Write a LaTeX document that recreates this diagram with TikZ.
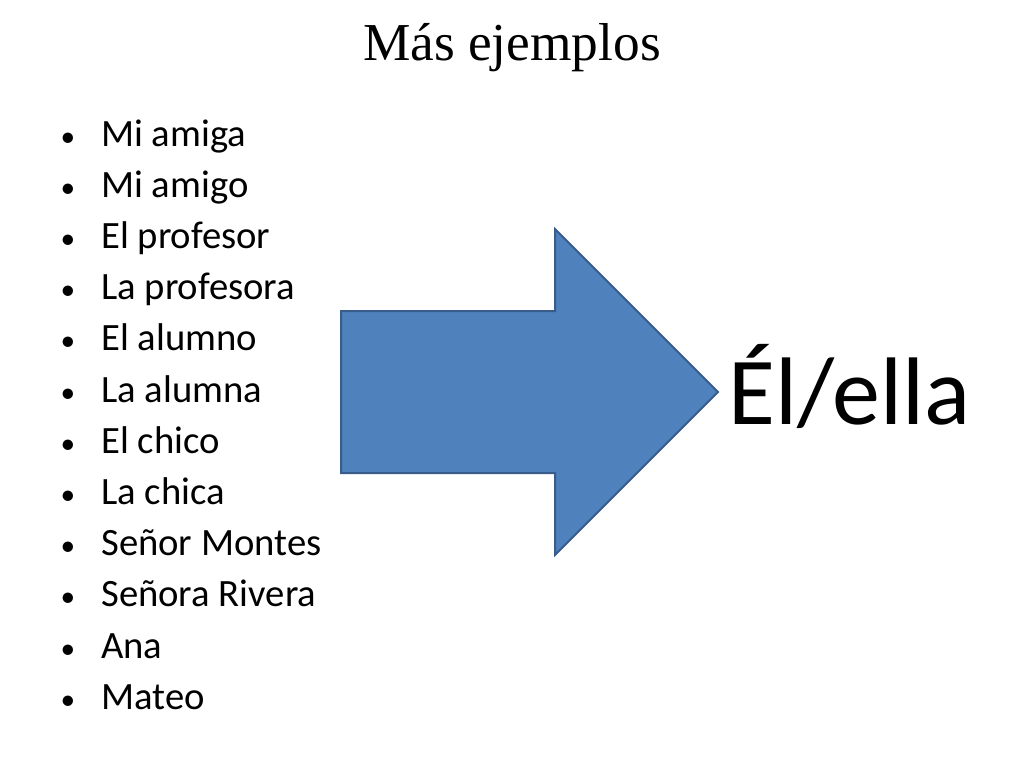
\documentclass[tikz,border=0pt]{standalone}
\usepackage{fontspec}
\setmainfont{Carlito}
\newfontfamily\titlefont{Liberation Serif}
\begin{document}
\begin{tikzpicture}[x=0.75pt,y=-0.75pt,
  item/.style={anchor=base west,inner sep=0,font=\fontsize{29}{33}\selectfont},
  bul/.style={anchor=base,inner sep=0,font=\fontsize{22}{26}\selectfont}]
\useasboundingbox[fill=white] (0,0) rectangle (1024,768);
\node[anchor=base,inner sep=0,font=\titlefont\fontsize{40}{44}\selectfont] (title) at (512,60) {Más ejemplos};
\foreach \t [count=\i from 0] in {Mi amiga,Mi amigo,El profesor,La profesora,El alumno,La alumna,El chico,La chica,Señor Montes,Señora Rivera,Ana,Mateo}{
  \node[bul] (b\i) at (68,{146+51.2*\i}) {•};
  \node[item] (t\i) at (101,{146+51.2*\i}) {\t};
}
\draw[fill={rgb,255:red,79;green,129;blue,189},draw={rgb,255:red,56;green,93;blue,138},line width=1.5pt]
 (341,311) -- (555,311) -- (555,229) -- (718,392) -- (555,555) -- (555,473) -- (341,473) -- cycle;
\node[anchor=base west,inner sep=0,font=\fontsize{72}{78}\selectfont] (res) at (728,424) {Él/ella};
\end{tikzpicture}
\end{document}
